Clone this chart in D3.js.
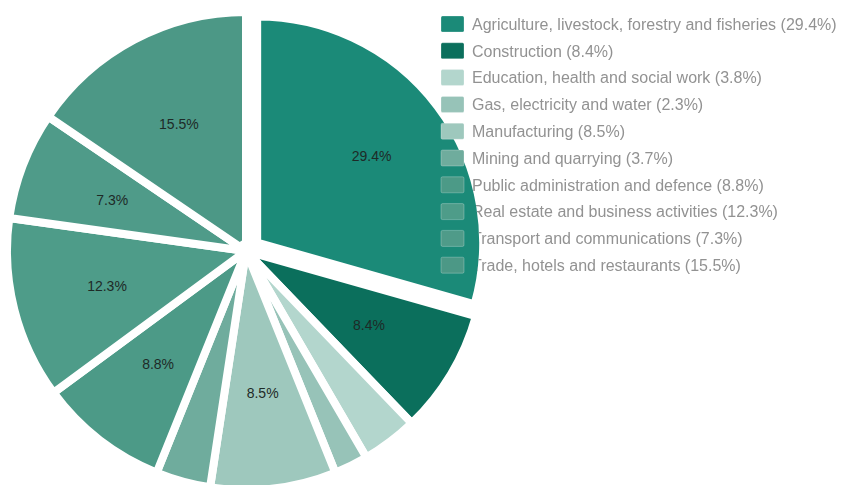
<!DOCTYPE html>
<html>
<head>
<meta charset="utf-8">
<script src="https://cdn.jsdelivr.net/npm/d3@7"></script>
<style>
  html, body { margin: 0; padding: 0; background: #fff; }
  svg { display: block; }
</style>
</head>
<body>
<svg id="chart" width="848" height="485"></svg>
<script>
// Share of GDP by sector (%)
const sectors = [
  "Agriculture, livestock, forestry and fisheries",
  "Construction",
  "Education, health and social work",
  "Gas, electricity and water",
  "Manufacturing",
  "Mining and quarrying",
  "Public administration and defence",
  "Real estate and business activities",
  "Transport and communications",
  "Trade, hotels and restaurants"
];
const shares = [29.4, 8.4, 3.8, 2.3, 8.5, 3.7, 8.8, 12.3, 7.3, 15.5];
const colors = [
  "#1b8a78", "#0b6f5c", "#b3d6cd", "#97c3b8", "#9ec8bd",
  "#6fac9d", "#4c9a87", "#4e9c89", "#4f9b89", "#4c9886"
];
// Sectors whose slice carries an inline percentage label
const minLabelShare = 5;
// Index of the slice pulled away from the centre
const explodedIndex = 0;

const svg = d3.select("#chart");
const cx = 246, cy = 251, radius = 239;
const explode = 14, explodedRadius = 226;
const gap = 8; // white separator width between slices, px

const data = sectors.map((name, i) => ({ name, value: shares[i], color: colors[i] }));

const pie = d3.pie().sort(null).value(d => d.value);
const arcs = pie(data);
const arc = d3.arc().innerRadius(0)
  .outerRadius(d => d.index === explodedIndex ? explodedRadius : radius);
const labelArc = d3.arc().innerRadius(radius * 0.6).outerRadius(radius * 0.6);

const fmt = v => v.toFixed(1) + "%";

const offset = d => {
  if (d.index !== explodedIndex) return [0, 0];
  const a = (d.startAngle + d.endAngle) / 2;
  return [Math.sin(a) * explode, -Math.cos(a) * explode];
};
const sliceTransform = d => `translate(${cx + offset(d)[0]},${cy + offset(d)[1]})`;

// Pie slices, separated by white outlines
const g = svg.append("g");
g.selectAll("path")
  .data(arcs)
  .join("path")
  .attr("d", arc)
  .attr("transform", sliceTransform)
  .attr("fill", d => d.data.color)
  .attr("stroke", "#fff")
  .attr("stroke-width", gap)
  .attr("stroke-linejoin", "round");

// White hub where the separators meet
g.append("circle")
  .attr("cx", cx - 1)
  .attr("cy", cy - 2)
  .attr("r", 9)
  .attr("fill", "#fff");

g.selectAll("text")
  .data(arcs.filter(d => d.data.value >= minLabelShare))
  .join("text")
  .attr("transform", d => {
    const [x, y] = labelArc.centroid(d);
    const [ox, oy] = offset(d);
    return `translate(${cx + x + ox},${cy + y + oy})`;
  })
  .attr("text-anchor", "middle")
  .attr("dy", "0.36em")
  .attr("font-family", "'Liberation Sans', Arial, sans-serif")
  .attr("font-size", 14)
  .attr("fill", "#1e2a27")
  .text(d => fmt(d.data.value));

// Legend text is hidden wherever the exploded slice's fill lies beneath it
const mask = svg.append("defs").append("mask").attr("id", "legend-mask")
  .attr("maskUnits", "userSpaceOnUse")
  .attr("x", 0).attr("y", 0).attr("width", 848).attr("height", 485);
mask.append("rect").attr("width", 848).attr("height", 485).attr("fill", "#fff");
mask.append("path")
  .datum(arcs[explodedIndex])
  .attr("d", arc)
  .attr("transform", sliceTransform)
  .attr("fill", "#000")
  .attr("stroke", "#fff")
  .attr("stroke-width", gap)
  .attr("stroke-linejoin", "round");

// Legend layout
const legendX = 441, legendY = 24, rowH = 26.8;

svg.append("g").attr("class", "legend-text")
  .attr("mask", "url(#legend-mask)")
  .selectAll("text")
  .data(data)
  .join("text")
  .attr("x", legendX + 31)
  .attr("y", (d, i) => legendY + i * rowH)
  .attr("dy", "0.36em")
  .attr("font-family", "'Liberation Sans', Arial, sans-serif")
  .attr("font-size", 16)
  .attr("fill", "#929292")
  .text(d => `${d.name} (${fmt(d.value)})`);

svg.append("g").attr("class", "legend-keys")
  .selectAll("rect")
  .data(data)
  .join("rect")
  .attr("x", legendX)
  .attr("y", (d, i) => legendY + i * rowH - 8)
  .attr("width", 23)
  .attr("height", 16)
  .attr("rx", 1.5)
  .attr("fill", d => d.color)
  .attr("stroke", "#fff")
  .attr("stroke-opacity", 0.25);
</script>
</body>
</html>
